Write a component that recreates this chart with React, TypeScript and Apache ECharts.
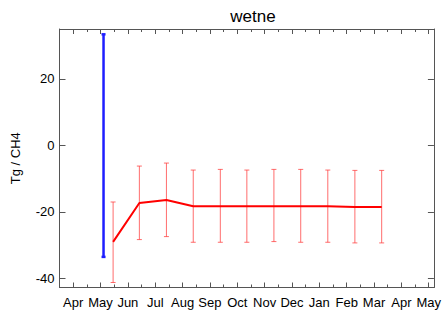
import React, { useEffect, useRef } from "react";
import * as echarts from "echarts";

const months = ["Apr", "May", "Jun", "Jul", "Aug", "Sep", "Oct", "Nov", "Dec", "Jan", "Feb", "Mar", "Apr", "May"];
const yTicks = [-40, -20, 0, 20];

const redX = [1.46, 2.42, 3.41, 4.39, 5.38, 6.35, 7.34, 8.32, 9.31, 10.3, 11.28];
const redMean = [-29.0, -17.3, -16.4, -18.3, -18.3, -18.3, -18.3, -18.3, -18.3, -18.5, -18.5];
const redLow = [-41.2, -28.3, -27.4, -29.1, -29.1, -29.1, -28.9, -29.1, -29.1, -29.3, -29.3];
const redHigh = [-17.0, -6.2, -5.3, -7.4, -7.2, -7.4, -7.2, -7.2, -7.4, -7.5, -7.5];

const blueX = [1.11];
const blueLow = [-33.5];
const blueHigh = [33.4];

const FONT = "Liberation Sans, Arial, Helvetica, sans-serif";
const AXIS_COLOR = "#555";

function errorBarRender(color: string, width: number, cap: number) {
  return (params: any, api: any) => {
    const x = api.value(0);
    const lo = api.coord([x, api.value(1)]);
    const hi = api.coord([x, api.value(2)]);
    const style = { stroke: color, lineWidth: width };
    return {
      type: "group",
      children: [
        { type: "line", shape: { x1: lo[0], y1: lo[1], x2: hi[0], y2: hi[1] }, style },
        { type: "line", shape: { x1: lo[0] - cap, y1: lo[1], x2: lo[0] + cap, y2: lo[1] }, style },
        { type: "line", shape: { x1: hi[0] - cap, y1: hi[1], x2: hi[0] + cap, y2: hi[1] }, style },
      ],
    };
  };
}

export default function App() {
  const ref = useRef<HTMLDivElement>(null);
  useEffect(() => {
    if (!ref.current) return;
    const chart = echarts.init(ref.current, null, { renderer: "svg" });
    const majorX = months.map((_, i) => i);
    const minorX = months.slice(0, months.length - 1).map((_, i) => i + 0.5);
    const xMin = -0.5;
    const xMax = 13.19;
    const baseX = {
      type: "value",
      min: xMin,
      max: xMax,
      splitLine: { show: false },
    };
    const line = { show: true, onZero: false, lineStyle: { color: AXIS_COLOR, width: 1 } };
    chart.setOption({
      animation: false,
      title: {
        text: "wetne",
        left: 248,
        textAlign: "center",
        top: 3,
        textStyle: { fontFamily: FONT, fontSize: 17, fontWeight: "normal", color: "#000" },
      },
      grid: { left: 59.5, right: 7.5, top: 29, bottom: 26.5, containLabel: false },
      xAxis: [
        {
          ...baseX,
          position: "bottom",
          axisLine: line,
          axisTick: { show: true, inside: true, length: 5, customValues: majorX, lineStyle: { color: AXIS_COLOR } },
          axisLabel: {
            show: true,
            customValues: majorX,
            margin: 8,
            formatter: (v: number) => months[Math.round(v)] ?? "",
            fontFamily: FONT,
            fontSize: 13,
            color: "#000",
          },
        },
        {
          ...baseX,
          position: "bottom",
          axisLine: { show: false, onZero: false },
          axisTick: { show: true, inside: true, length: 3, customValues: minorX, lineStyle: { color: AXIS_COLOR } },
          axisLabel: { show: false },
        },
        {
          ...baseX,
          position: "top",
          axisLine: line,
          axisTick: { show: true, inside: true, length: 5, customValues: majorX, lineStyle: { color: AXIS_COLOR } },
          axisLabel: { show: false },
        },
        {
          ...baseX,
          position: "top",
          axisLine: { show: false, onZero: false },
          axisTick: { show: true, inside: true, length: 3, customValues: minorX, lineStyle: { color: AXIS_COLOR } },
          axisLabel: { show: false },
        },
      ],
      yAxis: [
        {
          type: "value",
          min: -42.7,
          max: 35.0,
          position: "left",
          name: "Tg / CH4",
          nameLocation: "middle",
          nameGap: 38,
          nameTextStyle: { fontFamily: FONT, fontSize: 13, color: "#000" },
          splitLine: { show: false },
          axisLine: line,
          axisTick: { show: true, inside: true, length: 6, customValues: yTicks, lineStyle: { color: AXIS_COLOR } },
          axisLabel: { show: true, customValues: yTicks, margin: 5, fontFamily: FONT, fontSize: 13, color: "#000" },
        },
        {
          type: "value",
          min: -42.7,
          max: 35.0,
          position: "right",
          splitLine: { show: false },
          axisLine: line,
          axisTick: { show: true, inside: true, length: 6, customValues: yTicks, lineStyle: { color: AXIS_COLOR } },
          axisLabel: { show: false },
        },
      ],
      series: [
        {
          type: "custom",
          xAxisIndex: 0,
          yAxisIndex: 0,
          renderItem: errorBarRender("rgba(255,60,60,0.75)", 1, 2.5),
          data: redX.map((x, i) => [x, redLow[i], redHigh[i]]),
          z: 2,
        },
        {
          type: "line",
          xAxisIndex: 0,
          yAxisIndex: 0,
          data: redX.map((x, i) => [x, redMean[i]]),
          showSymbol: false,
          symbol: "none",
          lineStyle: { color: "#ff0000", width: 2 },
          z: 3,
        },
        {
          type: "custom",
          xAxisIndex: 0,
          yAxisIndex: 0,
          renderItem: errorBarRender("#1e1eff", 2.5, 2),
          data: blueX.map((x, i) => [x, blueLow[i], blueHigh[i]]),
          z: 4,
        },
      ],
    });
    return () => chart.dispose();
  }, []);
  return <div ref={ref} style={{ width: 444, height: 314, position: "absolute", left: 0, top: 0 }} />;
}
